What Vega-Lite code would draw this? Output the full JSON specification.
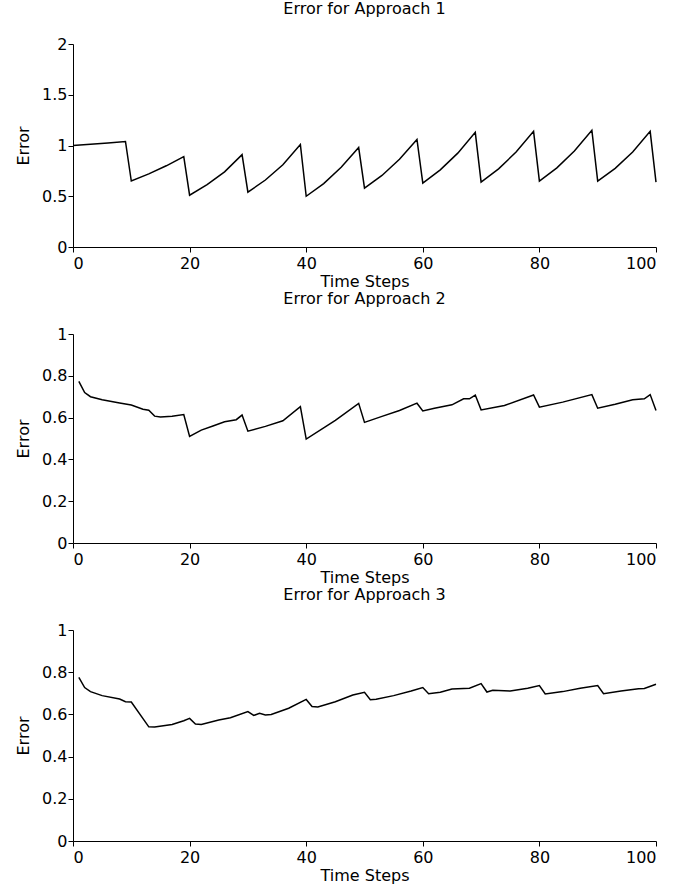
{
  "$schema": "https://vega.github.io/schema/vega-lite/v6.json",
  "autosize": {"type": "pad"},
  "padding": {"left": 15, "top": 1, "right": 0, "bottom": 2},
  "background": "white",
  "bounds": "flush",
  "spacing": 87,
  "config": {
    "font": "DejaVu Sans",
    "view": {"stroke": null},
    "title": {"fontSize": 16, "fontWeight": "normal", "color": "black", "offset": 19, "font": "DejaVu Sans"},
    "axis": {
      "grid": false,
      "domainColor": "black",
      "domainWidth": 1,
      "tickColor": "black",
      "tickSize": 5,
      "tickWidth": 1,
      "labelFont": "DejaVu Sans",
      "labelFontSize": 16,
      "labelColor": "black",
      "titleFont": "DejaVu Sans",
      "titleFontSize": 16,
      "titleFontWeight": "normal",
      "titleColor": "black"
    },
    "axisX": {"labelPadding": 3, "titlePadding": 2},
    "axisY": {"labelPadding": 1, "titlePadding": 10, "format": "~g"}
  },
  "data": {"values": [
    {"panel": 1, "step": 0, "error": 1.0}, {"panel": 1, "step": 3, "error": 1.012}, {"panel": 1, "step": 6, "error": 1.025}, {"panel": 1, "step": 9, "error": 1.04},
    {"panel": 1, "step": 10, "error": 0.65}, {"panel": 1, "step": 13, "error": 0.72}, {"panel": 1, "step": 16, "error": 0.8}, {"panel": 1, "step": 19, "error": 0.89},
    {"panel": 1, "step": 20, "error": 0.51}, {"panel": 1, "step": 23, "error": 0.615}, {"panel": 1, "step": 26, "error": 0.74}, {"panel": 1, "step": 29, "error": 0.91},
    {"panel": 1, "step": 30, "error": 0.54}, {"panel": 1, "step": 33, "error": 0.66}, {"panel": 1, "step": 36, "error": 0.81}, {"panel": 1, "step": 39, "error": 1.01},
    {"panel": 1, "step": 40, "error": 0.5}, {"panel": 1, "step": 43, "error": 0.625}, {"panel": 1, "step": 46, "error": 0.785}, {"panel": 1, "step": 49, "error": 0.98},
    {"panel": 1, "step": 50, "error": 0.58}, {"panel": 1, "step": 53, "error": 0.705}, {"panel": 1, "step": 56, "error": 0.865}, {"panel": 1, "step": 59, "error": 1.06},
    {"panel": 1, "step": 60, "error": 0.63}, {"panel": 1, "step": 63, "error": 0.76}, {"panel": 1, "step": 66, "error": 0.925}, {"panel": 1, "step": 69, "error": 1.13},
    {"panel": 1, "step": 70, "error": 0.64}, {"panel": 1, "step": 73, "error": 0.77}, {"panel": 1, "step": 76, "error": 0.935}, {"panel": 1, "step": 79, "error": 1.14},
    {"panel": 1, "step": 80, "error": 0.65}, {"panel": 1, "step": 83, "error": 0.78}, {"panel": 1, "step": 86, "error": 0.945}, {"panel": 1, "step": 89, "error": 1.15},
    {"panel": 1, "step": 90, "error": 0.65}, {"panel": 1, "step": 93, "error": 0.775}, {"panel": 1, "step": 96, "error": 0.935}, {"panel": 1, "step": 99, "error": 1.14},
    {"panel": 1, "step": 100, "error": 0.64},

    {"panel": 2, "step": 1, "error": 0.773}, {"panel": 2, "step": 2, "error": 0.72}, {"panel": 2, "step": 3, "error": 0.7}, {"panel": 2, "step": 5, "error": 0.685},
    {"panel": 2, "step": 8, "error": 0.67}, {"panel": 2, "step": 10, "error": 0.66}, {"panel": 2, "step": 12, "error": 0.64}, {"panel": 2, "step": 13, "error": 0.635},
    {"panel": 2, "step": 14, "error": 0.607}, {"panel": 2, "step": 15, "error": 0.603}, {"panel": 2, "step": 17, "error": 0.607}, {"panel": 2, "step": 19, "error": 0.615},
    {"panel": 2, "step": 20, "error": 0.51}, {"panel": 2, "step": 22, "error": 0.54}, {"panel": 2, "step": 24, "error": 0.56}, {"panel": 2, "step": 26, "error": 0.58},
    {"panel": 2, "step": 28, "error": 0.59}, {"panel": 2, "step": 29, "error": 0.612}, {"panel": 2, "step": 30, "error": 0.535}, {"panel": 2, "step": 33, "error": 0.558},
    {"panel": 2, "step": 36, "error": 0.585}, {"panel": 2, "step": 39, "error": 0.652}, {"panel": 2, "step": 40, "error": 0.497}, {"panel": 2, "step": 45, "error": 0.587},
    {"panel": 2, "step": 49, "error": 0.668}, {"panel": 2, "step": 50, "error": 0.577}, {"panel": 2, "step": 53, "error": 0.606}, {"panel": 2, "step": 56, "error": 0.634},
    {"panel": 2, "step": 59, "error": 0.669}, {"panel": 2, "step": 60, "error": 0.632}, {"panel": 2, "step": 62, "error": 0.645}, {"panel": 2, "step": 65, "error": 0.661},
    {"panel": 2, "step": 67, "error": 0.69}, {"panel": 2, "step": 68, "error": 0.69}, {"panel": 2, "step": 69, "error": 0.708}, {"panel": 2, "step": 70, "error": 0.637},
    {"panel": 2, "step": 74, "error": 0.658}, {"panel": 2, "step": 79, "error": 0.708}, {"panel": 2, "step": 80, "error": 0.65}, {"panel": 2, "step": 84, "error": 0.674},
    {"panel": 2, "step": 89, "error": 0.71}, {"panel": 2, "step": 90, "error": 0.645}, {"panel": 2, "step": 93, "error": 0.664}, {"panel": 2, "step": 96, "error": 0.685},
    {"panel": 2, "step": 98, "error": 0.69}, {"panel": 2, "step": 99, "error": 0.71}, {"panel": 2, "step": 100, "error": 0.634},

    {"panel": 3, "step": 1, "error": 0.775}, {"panel": 3, "step": 2, "error": 0.727}, {"panel": 3, "step": 3, "error": 0.708}, {"panel": 3, "step": 5, "error": 0.689},
    {"panel": 3, "step": 8, "error": 0.673}, {"panel": 3, "step": 9, "error": 0.66}, {"panel": 3, "step": 10, "error": 0.659}, {"panel": 3, "step": 13, "error": 0.541},
    {"panel": 3, "step": 14, "error": 0.54}, {"panel": 3, "step": 17, "error": 0.552}, {"panel": 3, "step": 19, "error": 0.57}, {"panel": 3, "step": 20, "error": 0.581},
    {"panel": 3, "step": 21, "error": 0.554}, {"panel": 3, "step": 22, "error": 0.552}, {"panel": 3, "step": 25, "error": 0.573}, {"panel": 3, "step": 27, "error": 0.584},
    {"panel": 3, "step": 30, "error": 0.613}, {"panel": 3, "step": 31, "error": 0.595}, {"panel": 3, "step": 32, "error": 0.605}, {"panel": 3, "step": 33, "error": 0.597},
    {"panel": 3, "step": 34, "error": 0.6}, {"panel": 3, "step": 37, "error": 0.629}, {"panel": 3, "step": 40, "error": 0.671}, {"panel": 3, "step": 41, "error": 0.637},
    {"panel": 3, "step": 42, "error": 0.635}, {"panel": 3, "step": 45, "error": 0.66}, {"panel": 3, "step": 48, "error": 0.692}, {"panel": 3, "step": 50, "error": 0.705},
    {"panel": 3, "step": 51, "error": 0.67}, {"panel": 3, "step": 52, "error": 0.672}, {"panel": 3, "step": 55, "error": 0.689}, {"panel": 3, "step": 58, "error": 0.711},
    {"panel": 3, "step": 60, "error": 0.727}, {"panel": 3, "step": 61, "error": 0.698}, {"panel": 3, "step": 63, "error": 0.705}, {"panel": 3, "step": 65, "error": 0.72},
    {"panel": 3, "step": 68, "error": 0.724}, {"panel": 3, "step": 70, "error": 0.746}, {"panel": 3, "step": 71, "error": 0.706}, {"panel": 3, "step": 72, "error": 0.714},
    {"panel": 3, "step": 75, "error": 0.711}, {"panel": 3, "step": 78, "error": 0.724}, {"panel": 3, "step": 80, "error": 0.737}, {"panel": 3, "step": 81, "error": 0.697},
    {"panel": 3, "step": 84, "error": 0.708}, {"panel": 3, "step": 87, "error": 0.724}, {"panel": 3, "step": 90, "error": 0.737}, {"panel": 3, "step": 91, "error": 0.698},
    {"panel": 3, "step": 94, "error": 0.711}, {"panel": 3, "step": 97, "error": 0.722}, {"panel": 3, "step": 98, "error": 0.723}, {"panel": 3, "step": 100, "error": 0.743}
  ]},
  "vconcat": [
    {
      "title": "Error for Approach 1",
      "width": 583, "height": 203,
      "transform": [{"filter": "datum.panel == 1"}],
      "mark": {"type": "line", "color": "black", "strokeWidth": 1.5},
      "encoding": {
        "x": {"field": "step", "type": "quantitative", "scale": {"domain": [0, 100], "nice": false},
              "axis": {"title": "Time Steps", "values": [0, 20, 40, 60, 80, 100], "encode": {"ticks": {"update": {"y2": {"value": -5}}}}}},
        "y": {"field": "error", "type": "quantitative", "scale": {"domain": [0, 2], "nice": false, "zero": true},
              "axis": {"title": "Error", "values": [0, 0.5, 1, 1.5, 2], "encode": {"ticks": {"update": {"x2": {"value": 5}}}}}}
      }
    },
    {
      "title": "Error for Approach 2",
      "width": 583, "height": 209,
      "transform": [{"filter": "datum.panel == 2"}],
      "mark": {"type": "line", "color": "black", "strokeWidth": 1.5},
      "encoding": {
        "x": {"field": "step", "type": "quantitative", "scale": {"domain": [0, 100], "nice": false},
              "axis": {"title": "Time Steps", "values": [0, 20, 40, 60, 80, 100], "encode": {"ticks": {"update": {"y2": {"value": -5}}}}}},
        "y": {"field": "error", "type": "quantitative", "scale": {"domain": [0, 1], "nice": false, "zero": true},
              "axis": {"title": "Error", "values": [0, 0.2, 0.4, 0.6, 0.8, 1], "encode": {"ticks": {"update": {"x2": {"value": 5}}}}}}
      }
    },
    {
      "title": "Error for Approach 3",
      "width": 583, "height": 211,
      "transform": [{"filter": "datum.panel == 3"}],
      "mark": {"type": "line", "color": "black", "strokeWidth": 1.5},
      "encoding": {
        "x": {"field": "step", "type": "quantitative", "scale": {"domain": [0, 100], "nice": false},
              "axis": {"title": "Time Steps", "values": [0, 20, 40, 60, 80, 100], "encode": {"ticks": {"update": {"y2": {"value": -5}}}}}},
        "y": {"field": "error", "type": "quantitative", "scale": {"domain": [0, 1], "nice": false, "zero": true},
              "axis": {"title": "Error", "values": [0, 0.2, 0.4, 0.6, 0.8, 1], "encode": {"ticks": {"update": {"x2": {"value": 5}}}}}}
      }
    }
  ]
}
